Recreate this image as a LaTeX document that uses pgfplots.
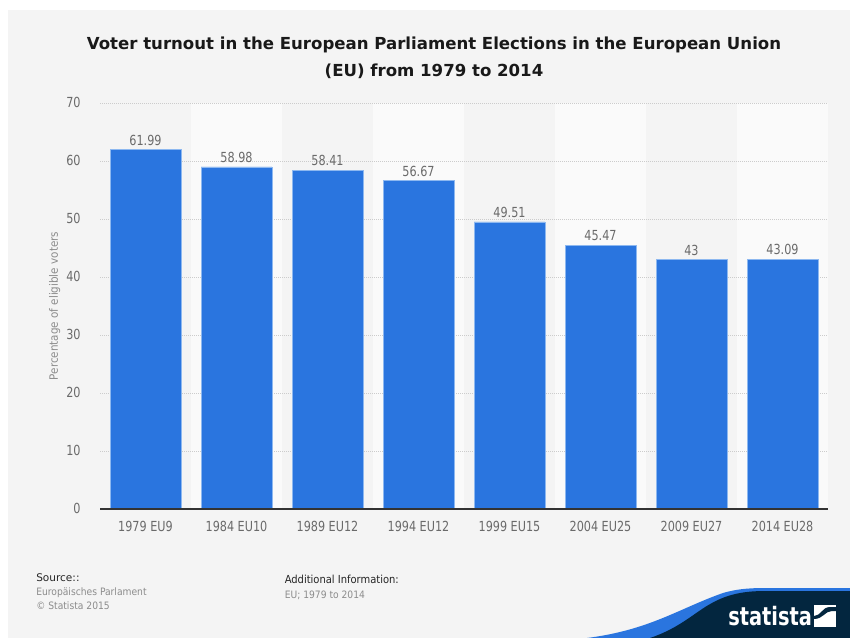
\documentclass[border=0pt]{standalone}
\usepackage{fontspec}
\setmainfont{DejaVu Sans}
\newfontfamily\cond{DejaVu Sans Condensed}
\newfontfamily\condtall[FakeStretch=0.9]{DejaVu Sans Condensed}
\newfontfamily\condlogo[FakeStretch=0.85]{DejaVu Sans Condensed}
\usepackage{pgfplots}
\usepackage{pgfplotstable}
\pgfplotsset{compat=1.18}
\definecolor{panel}{HTML}{F4F4F4}
\definecolor{band}{HTML}{FAFAFA}
\definecolor{barblue}{HTML}{2A75DF}
\definecolor{barline}{HTML}{8DB8F0}
\definecolor{navy}{HTML}{03263F}
\definecolor{ticktxt}{HTML}{6A6A6A}
\newcommand{\px}{0.75pt}

\pgfplotstableread{
x turnout
0.5 61.99
1.5 58.98
2.5 58.41
3.5 56.67
4.5 49.51
5.5 45.47
6.5 43
7.5 43.09
}\turnout
\pgfplotstableread{
x top
1.5 70
3.5 70
5.5 70
7.5 70
}\bands

\begin{document}
\begin{tikzpicture}
\begin{scope}[x=\px,y=-\px]
\path[use as bounding box] (0,0) rectangle (850,638);
\fill[panel] (8,10) rectangle (850,638);
\end{scope}

\begin{axis}[
  at={(75pt,-381.75pt)}, anchor=south west,
  scale only axis, width=546pt, height=304.5pt,
  xmin=0, xmax=8, ymin=0, ymax=70,
  axis on top,
  axis x line*=bottom, axis y line*=left,
  x axis line style={draw=black!80!white, line width=0.9pt, -},
  y axis line style={draw=none},
  xtick={0.5,1.5,...,7.5},
  xticklabels={1979 EU9,1984 EU10,1989 EU12,1994 EU12,1999 EU15,2004 EU25,2009 EU27,2014 EU28},
  ytick={0,10,...,70},
  major tick length=0pt,
  /pgf/number format/assume math mode=true,
  tick label style={font=\condtall\fontsize{10.4pt}{12pt}\selectfont, text=ticktxt},
  x tick label style={yshift=-5.3pt},
  y tick label style={xshift=-11pt, yshift=0.5pt},
  ylabel={Percentage of eligible voters},
  ylabel style={font=\cond\fontsize{8.65pt}{10pt}\selectfont, text=black!45, at={(axis description cs:-0.048,0.5)}, anchor=south},
  clip=false,
]
% bands first, then the dotted grid over them, then the bars
\addplot[ybar, bar shift=0pt, bar width=68.25pt, fill=band, draw=none] table[x=x,y=top] {\bands};
\foreach \g in {10,20,...,70} {
  \edef\tmp{\noexpand\addplot[black!20, dash pattern=on 0.75pt off 0.75pt, line width=0.5pt, forget plot] coordinates {(0,\g) (8,\g)};}
  \tmp
}
\addplot[ybar, bar shift=0pt, bar width=53pt, fill=barblue, draw=barline, line width=0.5pt,
  nodes near coords,
  every node near coord/.append style={font=\condtall\fontsize{10.4pt}{12pt}\selectfont, text=ticktxt, yshift=-0.5pt}]
  table[x=x,y=turnout] {\turnout};
\end{axis}

\begin{scope}[x=\px,y=-\px]
\node[align=center, font=\bfseries\fontsize{12.43pt}{20.2pt}\selectfont, text=black!90] at (434,58)
  {Voter turnout in the European Parliament Elections in the European Union\\(EU) from 1979 to 2014};

\node[anchor=base west, inner sep=0, font=\fontsize{7.9pt}{9pt}\selectfont, text=black!85] at (36,581) {Source::};
\node[anchor=base west, inner sep=0, font=\cond\fontsize{7.65pt}{9pt}\selectfont, text=black!45] at (36,595) {Europäisches Parlament};
\node[anchor=base west, inner sep=0, font=\cond\fontsize{7.65pt}{9pt}\selectfont, text=black!45] at (36,609) {© Statista 2015};
\node[anchor=base west, inner sep=0, font=\cond\fontsize{8.3pt}{9pt}\selectfont, text=black!85] at (284.5,583) {Additional Information:};
\node[anchor=base west, inner sep=0, font=\cond\fontsize{7.65pt}{9pt}\selectfont, text=black!45] at (284.5,598.5) {EU; 1979 to 2014};

% logo
\fill[barblue] (587,638) .. controls (650,630) and (680,608) .. (723,593) .. controls (740,588) and (755,588) .. (770,588) -- (850,588) -- (850,638) -- cycle;
\fill[navy] (650,638) .. controls (680,628) and (695,612) .. (712,603) .. controls (728,594) and (745,591) .. (765,591) -- (850,591) -- (850,638) -- cycle;
\node[anchor=base west, inner sep=0, font=\condlogo\bfseries\fontsize{19pt}{22pt}\selectfont, text=white] at (728,625) {statista};
\fill[white] (814,605) rectangle (836,627);
\fill[navy] (814,619) .. controls (823,619) and (825,611) .. (832,611) -- (836,611) -- (836,607) -- (830,607) .. controls (822,607) and (821,616) .. (814,616) -- cycle;
\end{scope}
\end{tikzpicture}
\end{document}
